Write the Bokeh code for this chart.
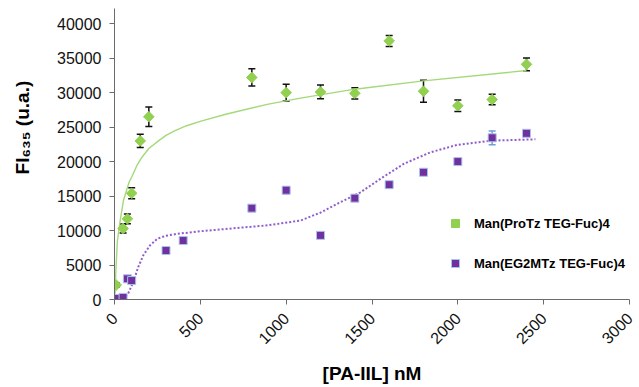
import math
from bokeh.plotting import figure
from bokeh.models import (ColumnDataSource, Whisker, TeeHead, FixedTicker, Range1d,
                          Legend, LegendItem)
from bokeh.embed import file_html
from bokeh.resources import INLINE

# ---------------- data ----------------
conc_protz = [10, 50, 75, 100, 150, 200, 800, 1000, 1200, 1400, 1600, 1800, 2000, 2200, 2400]
fi_protz = [2100, 10300, 11700, 15400, 23000, 26500, 32200, 30000, 30100, 29900, 37500, 30200, 28100, 29000, 34100]
err_protz = [300, 650, 700, 800, 950, 1400, 1250, 1230, 1000, 820, 800, 1600, 820, 750, 920]

conc_eg2 = [10, 50, 75, 100, 300, 400, 800, 1000, 1200, 1400, 1600, 1800, 2000, 2200, 2400]
fi_eg2 = [150, 300, 3000, 2750, 7100, 8550, 13250, 15850, 9300, 14700, 16650, 18450, 20000, 23450, 24100]
err_eg2 = [100, 150, 250, 200, 200, 250, 350, 500, 250, 400, 400, 300, 300, 1000, 450]

# fitted curves
fit_x_protz = [2, 8, 17, 33, 52, 85, 101, 130, 159, 200, 256, 300, 353, 420, 509, 654, 889, 1083, 1400, 1800, 2400]
fit_y_protz = [0, 4200, 8550, 11450, 14350, 17000, 17800, 19400, 20600, 21900, 23000, 23800, 24500, 25200, 25900, 26900, 28300, 29200, 30500, 31700, 33200]

fit_x_eg2 = [50, 80, 109, 138, 167, 206, 249, 300, 365, 501, 695, 890, 1084, 1200, 1297, 1433, 1549, 1685, 1841, 1996, 2200, 2452]
fit_y_eg2 = [0, 900, 2500, 4680, 6380, 7830, 8800, 9250, 9520, 9900, 10330, 10750, 11450, 12600, 13870, 15550, 17500, 19670, 21350, 22420, 23040, 23230]

x_ticks = [0, 500, 1000, 1500, 2000, 2500, 3000]
y_ticks = [0, 5000, 10000, 15000, 20000, 25000, 30000, 35000, 40000]

label_protz = "Man(ProTz TEG-Fuc)4"
label_eg2 = "Man(EG2MTz TEG-Fuc)4"
x_title = "[PA-IIL] nM"
y_title = "\u00a0" * 10 + "FI\u2086\u2083\u2085 (u.a.)"

FONT = "Liberation Sans"
GREEN = "#92D050"
PURPLE = "#7030A0"

p = figure(width=639, height=387, output_backend="svg", toolbar_location=None,
           x_range=Range1d(0, 3000), y_range=Range1d(0, 42200),
           min_border_left=114, min_border_right=10, min_border_top=8, min_border_bottom=88)
p.outline_line_color = None
p.xgrid.visible = False
p.ygrid.visible = False
p.background_fill_color = "white"

# axes
for ax in (p.xaxis[0], p.yaxis[0]):
    ax.axis_line_color = "#6b6b6b"
    ax.major_tick_line_color = "#6b6b6b"
    ax.minor_tick_line_color = None
    ax.major_tick_in = 0
    ax.major_tick_out = 5
    ax.major_label_text_font = FONT
    ax.major_label_text_font_size = "16px"
    ax.major_label_text_color = "#111111"
    ax.axis_label_text_font = FONT
    ax.axis_label_text_font_style = "bold"
    ax.axis_label_text_font_size = "19px"
    ax.axis_label_text_color = "black"

p.xaxis.ticker = FixedTicker(ticks=x_ticks)
p.yaxis.ticker = FixedTicker(ticks=y_ticks)
p.xaxis.major_label_orientation = math.pi / 4
p.xaxis.major_label_standoff = 11
p.yaxis.major_label_standoff = 8
p.xaxis.axis_label = x_title
p.xaxis.axis_label_standoff = 11
p.yaxis.axis_label = y_title
p.yaxis.axis_label_standoff = 21

# fitted curves
p.line(fit_x_protz, fit_y_protz, line_color="#a3d97a", line_width=1.4)
p.line(fit_x_eg2, fit_y_eg2, line_color="#8f5ccb", line_width=2, line_dash="2 2")

# error bars
src_p = ColumnDataSource(dict(x=conc_protz, y=fi_protz,
                              lo=[v - e for v, e in zip(fi_protz, err_protz)],
                              hi=[v + e for v, e in zip(fi_protz, err_protz)]))
src_e = ColumnDataSource(dict(x=conc_eg2, y=fi_eg2,
                              lo=[v - e for v, e in zip(fi_eg2, err_eg2)],
                              hi=[v + e for v, e in zip(fi_eg2, err_eg2)]))

p.add_layout(Whisker(source=src_p, base="x", upper="hi", lower="lo", dimension="height",
                     line_color="#111111", line_width=1.5,
                     upper_head=TeeHead(size=7, line_color="#111111", line_width=1.5),
                     lower_head=TeeHead(size=7, line_color="#111111", line_width=1.5)))
p.add_layout(Whisker(source=src_e, base="x", upper="hi", lower="lo", dimension="height",
                     line_color="#6f9fd8", line_width=1.5,
                     upper_head=TeeHead(size=7, line_color="#6f9fd8", line_width=1.5),
                     lower_head=TeeHead(size=7, line_color="#6f9fd8", line_width=1.5)))

r1 = p.scatter("x", "y", source=src_p, marker="square", angle=math.pi / 4, size=7.5,
               fill_color=GREEN, line_color=GREEN)
r2 = p.scatter("x", "y", source=src_e, marker="square", size=8,
               fill_color=PURPLE, line_color="#a9c4ea", line_width=1)

legend = Legend(items=[LegendItem(label=label_protz, renderers=[r1]),
                       LegendItem(label=label_eg2, renderers=[r2])],
                location=(331, 26), margin=0, padding=0, spacing=20,
                glyph_width=20, glyph_height=20, label_height=20, label_standoff=9,
                border_line_alpha=0, background_fill_alpha=0,
                label_text_font=FONT, label_text_font_style="bold",
                label_text_font_size="13px", label_text_color="black")
p.add_layout(legend)

open("out.html", "w").write(file_html(p, INLINE))
